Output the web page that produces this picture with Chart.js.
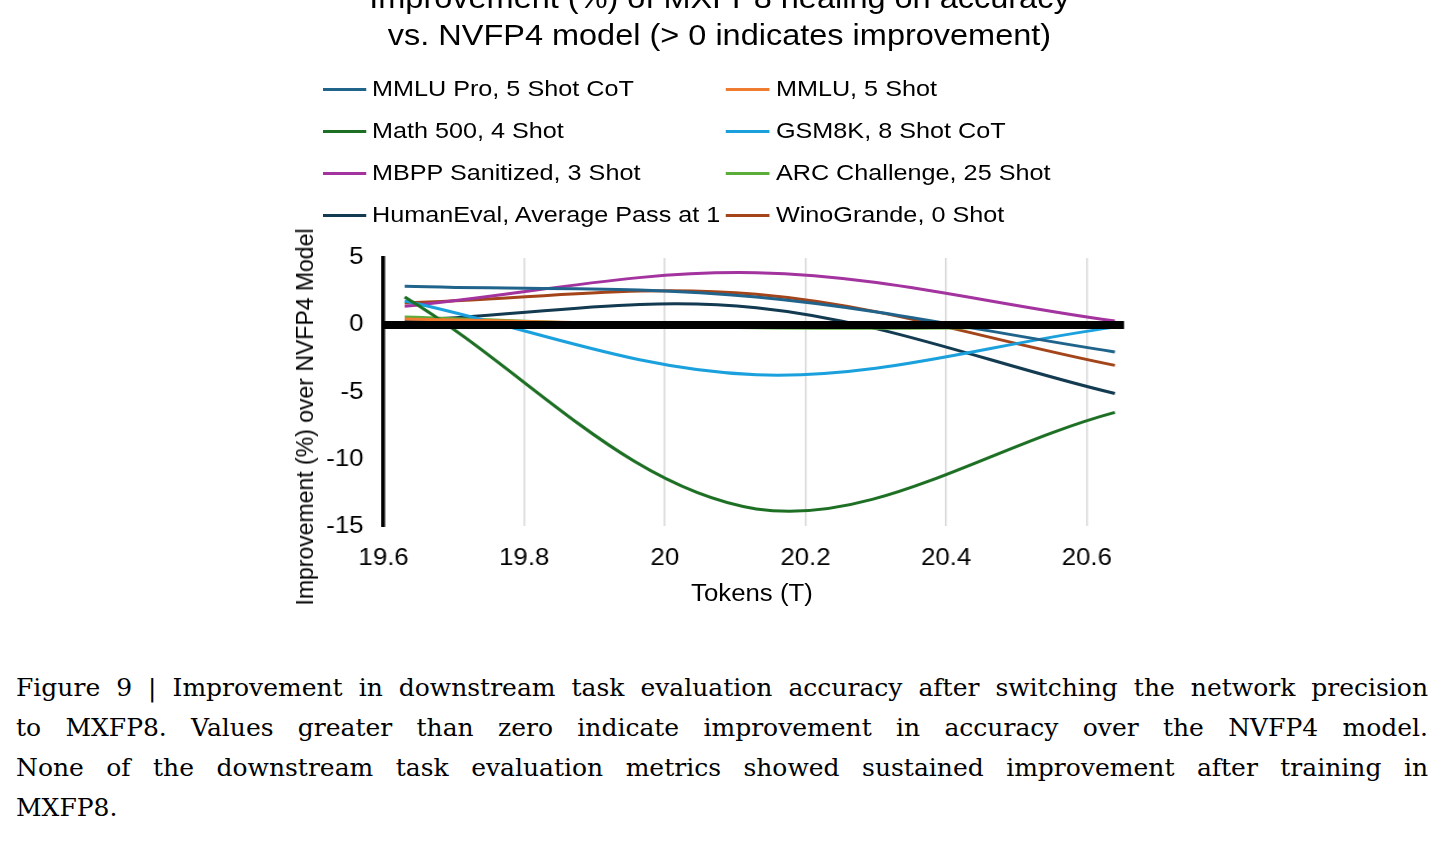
<!DOCTYPE html>
<html>
<head>
<meta charset="utf-8">
<script src="https://cdn.jsdelivr.net/npm/chart.js@4.4.1/dist/chart.umd.min.js"></script>
<style>
  html, body { margin: 0; padding: 0; background: #fff; }
  body { width: 1449px; height: 841px; position: relative; overflow: hidden; }
  /* the figure in the reference is slightly stretched horizontally */
  #fig { position: absolute; left: 0; top: 0; width: 1293.75px; height: 640px; transform: scaleX(1.12); transform-origin: 0 0; }
  #wrap { position: absolute; left: 0; top: 0; width: 1293.75px; height: 640px; }
  .sans { font-family: "Liberation Sans", Arial, sans-serif; color: #000; white-space: nowrap; }
  .title { position: absolute; left: -4.5px; width: 1293.75px; text-align: center; font-size: 29px; line-height: 36px; }
  #xtitle { position: absolute; left: 571.4px; width: 200px; top: 578px; text-align: center; font-size: 23px; line-height: 30px; }
  #ytitle { position: absolute; left: 305px; top: 417px; font-size: 23px; line-height: 28px; transform: translate(-50%, -50%) rotate(-90deg); }
  #legend { position: absolute; left: 287.5px; top: 74px; font-size: 22.5px; }
  .item { position: absolute; white-space: nowrap; height: 30px; line-height: 30px; }
  .item span.swatch { position: absolute; left: 0; top: 14px; width: 39.3px; height: 3px; }
  .item span.txt { position: absolute; left: 44.6px; top: 0; }
  .caption { position: absolute; left: 16px; width: 1412px; font-family: "DejaVu Serif", "Liberation Serif", serif; font-size: 25px; color: #000; }
  .caption div { height: 40px; line-height: 40px; text-align: justify; text-align-last: justify; white-space: nowrap; }
  .caption div.last { text-align-last: left; }
</style>
</head>
<body>
<div id="fig">
  <div id="wrap"><canvas id="chart"></canvas></div>
  <div class="title sans" style="top:-20px">Improvement (%) of MXFP8 healing on accuracy</div>
  <div class="title sans" style="top:17px">vs. NVFP4 model (&gt; 0 indicates improvement)</div>
  <div id="legend" class="sans"></div>
  <div id="xtitle" class="sans">Tokens (T)</div>
</div>
<div id="ytitle" class="sans">Improvement (%) over NVFP4 Model</div>
<div class="caption" style="top:668px">
  <div>Figure 9 | Improvement in downstream task evaluation accuracy after switching the network precision</div>
  <div>to MXFP8. Values greater than zero indicate improvement in accuracy over the NVFP4 model.</div>
  <div>None of the downstream task evaluation metrics showed sustained improvement after training in</div>
  <div class="last">MXFP8.</div>
</div>
<script>
// checkpoints (trillions of tokens)
const tokens = [19.63, 20.13, 20.64];
const xTicks = [19.6, 19.8, 20, 20.2, 20.4, 20.6];
const yTicks = [5, 0, -5, -10, -15];

const seriesNames = [
    'MMLU Pro, 5 Shot CoT', 'MMLU, 5 Shot',
    'Math 500, 4 Shot', 'GSM8K, 8 Shot CoT',
    'MBPP Sanitized, 3 Shot', 'ARC Challenge, 25 Shot',
    'HumanEval, Average Pass at 1', 'WinoGrande, 0 Shot'
];
const seriesColors = ['#20648c', '#ef7b31', '#1d6f24', '#1aa0dc', '#a3339e', '#5bad3a', '#123a50', '#a3441a'];

const mmluPro = [2.9, 2.1, -2.0];
const mmlu = [0.45, 0.0, 0.05];
const math500 = [2.1, -13.7, -6.5];
const gsm8k = [1.8, -3.7, -0.15];
const mbpp = [1.4, 3.9, 0.3];
const arc = [0.6, -0.2, -0.1];
const humanEval = [0.35, 1.3, -5.1];
const winoGrande = [1.65, 2.3, -3.0];
const seriesValues = [mmluPro, mmlu, math500, gsm8k, mbpp, arc, humanEval, winoGrande];

// legend, two columns
const legend = document.getElementById('legend');
seriesNames.forEach((name, i) => {
    const div = document.createElement('div');
    div.className = 'item';
    div.style.left = (i % 2 === 0 ? 0 : 360.7) + 'px';
    div.style.top = (Math.floor(i / 2) * 42) + 'px';
    div.innerHTML = '<span class="swatch" style="background:' + seriesColors[i] + '"></span><span class="txt">' + name + '</span>';
    legend.appendChild(div);
});

// thick black line at zero, drawn over the series
const zeroLine = {
    id: 'zeroLine',
    afterDatasetsDraw(chart) {
        const { ctx, chartArea, scales } = chart;
        const y0 = scales.y.getPixelForValue(0);
        ctx.save();
        ctx.strokeStyle = '#000';
        ctx.lineWidth = 8;
        ctx.beginPath();
        ctx.moveTo(chartArea.left, y0);
        ctx.lineTo(chartArea.right, y0);
        ctx.stroke();
        ctx.restore();
    }
};

const font = { family: 'Liberation Sans', size: 23 };

const ctx = document.getElementById('chart').getContext('2d');
new Chart(ctx, {
    type: 'line',
    data: {
        datasets: seriesNames.map((name, i) => ({
            label: name,
            data: tokens.map((t, j) => ({ x: t, y: seriesValues[i][j] })),
            borderColor: seriesColors[i],
            borderWidth: 3,
            pointRadius: 0,
            tension: 0.35,
            fill: false
        }))
    },
    options: {
        responsive: true,
        maintainAspectRatio: false,
        animation: false,
        events: [],
        layout: { padding: { left: 273, right: 291, top: 258, bottom: 50 } },
        plugins: { legend: { display: false }, title: { display: false }, tooltip: { enabled: false } },
        scales: {
            x: {
                type: 'linear', min: 19.6, max: 20.653,
                afterBuildTicks: s => { s.ticks = xTicks.map(v => ({ value: v })); },
                grid: { color: '#d9d9d9', lineWidth: 1.5, drawTicks: false },
                border: { display: false },
                ticks: { color: '#000', font, padding: 18, maxRotation: 0, callback: v => String(v) }
            },
            y: {
                min: -15, max: 5,
                afterBuildTicks: s => { s.ticks = yTicks.map(v => ({ value: v })); },
                grid: { display: false, drawTicks: false },
                border: { display: true, color: '#000', width: 3.5 },
                ticks: { color: '#000', font, padding: 18, callback: v => String(v) }
            }
        }
    },
    plugins: [zeroLine]
});
</script>
</body>
</html>
